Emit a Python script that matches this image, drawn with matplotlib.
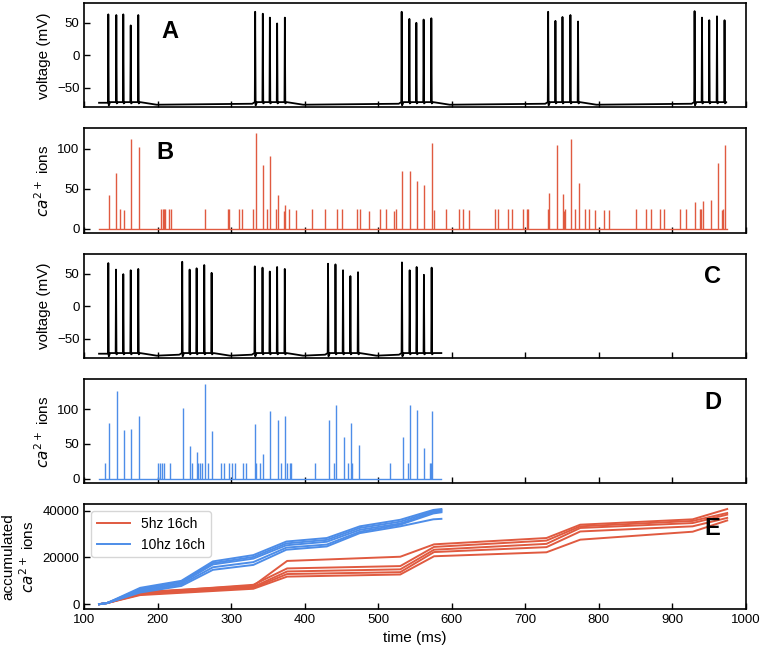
import matplotlib
matplotlib.use("Agg")
import matplotlib.pyplot as plt
import numpy as np

plt.rcParams["font.family"] = ["Liberation Sans", "DejaVu Sans"]
plt.rcParams["mathtext.fontset"] = "dejavusans"

RED = "#E05A40"
BLUE = "#4D8DE8"

# --- panel A / C: spike times (ms) and peak voltage (mV), grouped by burst ---
A_SPIKES = [[132.6, 143.5, 153.0, 163.1, 173.4],
            [332.5, 342.9, 352.5, 362.4, 372.9],
            [531.9, 542.4, 551.9, 561.8, 572.3],
            [731.3, 741.2, 750.8, 761.6, 772.0],
            [930.6, 940.7, 950.6, 961.1, 971.4]]
A_PEAKS = [[63, 62, 63, 46, 62],
           [67, 64, 58, 49, 58],
           [67, 56, 50, 55, 57],
           [67, 53, 59, 62, 52],
           [68, 58, 54, 60, 54]]
A_RANGE = (120.0, 973.3)

C_SPIKES = [[132.6, 143.1, 153.0, 163.1, 173.4],
            [233.2, 243.3, 252.8, 263.2, 273.2],
            [332.0, 342.5, 352.4, 362.4, 372.8],
            [431.7, 441.8, 452.1, 462.1, 472.5],
            [532.3, 542.8, 552.3, 562.2, 572.7]]
C_PEAKS = [[66, 56, 49, 55, 57],
           [68, 56, 58, 63, 51],
           [61, 59, 53, 60, 57],
           [65, 64, 55, 46, 52],
           [67, 55, 60, 48, 59]]
C_RANGE = (120.0, 585.9)

# membrane levels (mV)
V_REST = -73.0
V_AHP = -77.0
V_INTER = -72.0
V_SLOW = -76.0
V_PRE = -74.5

# --- panel B: ca2+ events, 5 Hz ---
B_TIMES = [133.6, 143.5, 148.1, 153.5, 163.5, 173.9, 204.3, 206.6, 208.9, 209.8,
           215.6, 217.9, 263.6, 294.9, 297.2, 310.8, 313.9, 329.0, 333.0, 343.4,
           348.8, 352.9, 361.1, 363.4, 372.0, 372.9, 378.2, 388.6, 410.0, 427.7,
           444.5, 451.3, 471.2, 475.7, 488.0, 502.5, 510.2, 521.5, 524.3, 532.3,
           542.7, 552.2, 562.7, 572.7, 575.8, 591.6, 610.2, 615.2, 623.8, 658.7,
           663.7, 676.8, 681.8, 696.7, 702.0, 704.0, 731.3, 733.1, 743.0, 752.1,
           753.0, 754.5, 763.0, 768.0, 773.0, 781.1, 786.5, 795.6, 807.4, 813.7,
           851.3, 864.0, 870.8, 884.0, 888.5, 910.7, 918.4, 931.5, 937.9, 939.0,
           942.0, 952.4, 962.4, 967.4, 968.7, 972.3]
B_IONS = [42, 70, 24, 23, 112, 103, 24, 24, 24, 24,
          24, 24, 24, 24, 24, 24, 24, 24, 120, 80,
          24, 91, 24, 42, 22, 29, 24, 23, 24, 24,
          24, 24, 24, 24, 22, 24, 24, 22, 24, 72,
          72, 60, 55, 108, 23, 24, 24, 24, 23, 24,
          24, 24, 24, 24, 24, 24, 24, 45, 105, 44,
          22, 24, 113, 24, 57, 24, 24, 23, 23, 23,
          24, 24, 24, 24, 24, 24, 24, 33, 24, 25,
          35, 36, 83, 23, 24, 105]
B_RANGE = (120.0, 975.0)

# --- panel D: ca2+ events, 10 Hz ---
D_TIMES = [127.6, 134.0, 144.0, 153.9, 163.9, 174.3, 200.6, 202.9, 205.6, 208.8,
           216.0, 234.1, 243.6, 245.9, 253.6, 255.0, 257.2, 259.5, 264.0, 268.6,
           274.0, 285.8, 290.3, 296.2, 301.6, 304.4, 315.7, 319.8, 332.0, 334.3,
           339.3, 342.9, 352.9, 363.3, 367.4, 373.2, 376.4, 379.6, 381.0, 414.5,
           433.1, 439.4, 443.0, 453.0, 459.3, 462.5, 464.8, 473.4, 516.4, 533.2,
           540.5, 542.7, 552.2, 562.7, 570.4, 571.3, 573.5]
D_IONS = [23, 80, 126, 70, 72, 90, 23, 23, 23, 23,
          23, 101, 47, 23, 38, 23, 23, 23, 136, 23,
          68, 23, 23, 23, 23, 23, 23, 23, 78, 23,
          23, 35, 97, 84, 23, 90, 23, 23, 23, 23,
          85, 23, 106, 60, 23, 80, 23, 48, 23, 60,
          23, 106, 98, 44, 23, 22, 97]
D_RANGE = (120.0, 585.0)

# --- panel E: accumulated ions, read at burst onsets / ends ---
E_T_5HZ = [120, 131, 176, 330, 376, 530, 576, 729, 775, 928, 975]
E_5HZ = [[0, 500, 5200, 7900, 18500, 20300, 25600, 28300, 34000, 36300, 40700],
         [0, 500, 4800, 8300, 15300, 16300, 24500, 27200, 33300, 35600, 39000],
         [0, 500, 4500, 7400, 14000, 14900, 23300, 25800, 32600, 34700, 38300],
         [0, 500, 4200, 7000, 12900, 13700, 22300, 24400, 31100, 33300, 36900],
         [0, 500, 3900, 6600, 11800, 12700, 20500, 22200, 27600, 31000, 35800]]
E_T_10HZ = [120, 131, 176, 232, 275, 330, 375, 430, 475, 530, 575, 586]
E_10HZ = [[0, 500, 7000, 10000, 18300, 21000, 26800, 28300, 33300, 36100, 40300, 40700],
          [0, 500, 6500, 9600, 17600, 20200, 26000, 27500, 32600, 35300, 39800, 40200],
          [0, 500, 6000, 9000, 17000, 19500, 25200, 26700, 31800, 34500, 39300, 39700],
          [0, 500, 5500, 8400, 15800, 18000, 24200, 25500, 31000, 34000, 38800, 39300],
          [0, 500, 5000, 7800, 14700, 16800, 23300, 24700, 30400, 33300, 36300, 36500]]


def voltage_trace(spikes, peaks, t_range):
    """Build polyline vertices for a bursting voltage trace."""
    t = [t_range[0]]
    v = [V_REST]
    for bi, (burst, pk) in enumerate(zip(spikes, peaks)):
        if bi > 0:
            t.append(burst[0] - 4); v.append(V_PRE)
        for s, p in zip(burst, pk):
            t += [s - 0.5, s, s + 0.6, s + 2.5]
            v += [V_INTER if bi or s != burst[0] else V_REST, p,
                  V_AHP if s == burst[0] else V_INTER - 2, V_INTER]
        if burst[-1] + 25 < t_range[1]:
            t.append(burst[-1] + 25); v.append(V_SLOW)
    t.append(t_range[1]); v.append(v[-1])
    return t, v


fig = plt.figure(figsize=(7.6, 6.52), dpi=100)
L, W = 0.111, 0.870
pos = [(0.8354, 0.1595), (0.6422, 0.161), (0.4505, 0.160),
       (0.2587, 0.1595), (0.066, 0.1606)]
axes = [fig.add_axes([L, b, W, h]) for b, h in pos]

tA, vA = voltage_trace(A_SPIKES, A_PEAKS, A_RANGE)
axes[0].plot(tA, vA, color="black", lw=1.3)
axes[0].set_ylim(-80, 80)
axes[0].set_yticks([-50, 0, 50])
axes[0].set_ylabel("voltage (mV)")

axes[1].plot(B_RANGE, [0, 0], color=RED, lw=1.0)
axes[1].vlines(B_TIMES, 0, B_IONS, color=RED, lw=1.0)
axes[1].set_yticks([0, 50, 100])
axes[1].set_ylabel("$ca^{2+}$ ions")

tC, vC = voltage_trace(C_SPIKES, C_PEAKS, C_RANGE)
axes[2].plot(tC, vC, color="black", lw=1.3)
axes[2].set_ylim(-80, 80)
axes[2].set_yticks([-50, 0, 50])
axes[2].set_ylabel("voltage (mV)")

axes[3].plot(D_RANGE, [0, 0], color=BLUE, lw=1.0)
axes[3].vlines(D_TIMES, 0, D_IONS, color=BLUE, lw=1.0)
axes[3].set_yticks([0, 50, 100])
axes[3].set_ylabel("$ca^{2+}$ ions")

ax = axes[4]
for i, vals in enumerate(E_5HZ):
    ax.plot(E_T_5HZ, vals, color=RED, lw=1.4, label="5hz 16ch" if i == 0 else None)
for i, vals in enumerate(E_10HZ):
    ax.plot(E_T_10HZ, vals, color=BLUE, lw=1.4, label="10hz 16ch" if i == 0 else None)
ax.set_yticks([0, 20000, 40000])
ax.set_ylabel("accumulated\n$ca^{2+}$ ions")
ax.set_xlabel("time (ms)")
ax.legend(loc="upper left", fontsize=10, handlelength=2.4)

letters = ["A", "B", "C", "D", "E"]
letter_xy = [(0.13, 0.73), (0.122, 0.77), (0.95, 0.78), (0.95, 0.78), (0.95, 0.77)]
for a, lab, (x, y) in zip(axes, letters, letter_xy):
    a.set_xlim(100, 1000)
    a.set_xticks(np.arange(100, 1001, 100))
    a.tick_params(direction="in", length=4, width=1, labelsize=9.5)
    if a is not axes[4]:
        a.tick_params(labelbottom=False)
    for sp in a.spines.values():
        sp.set_linewidth(1.2)
    a.yaxis.label.set_size(11)
    a.text(x, y, lab, transform=a.transAxes, fontsize=17, fontweight="bold",
           ha="center", va="center")
axes[4].xaxis.label.set_size(11)

fig.savefig("out.png", dpi=100)
